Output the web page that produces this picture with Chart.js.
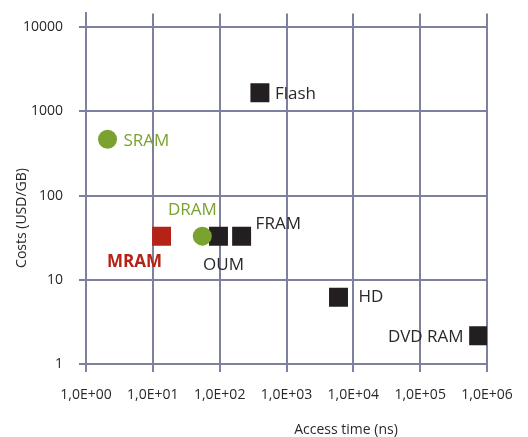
<!DOCTYPE html>
<html>
<head>
<meta charset="utf-8">
<script src="https://cdn.jsdelivr.net/npm/chart.js@4/dist/chart.umd.min.js"></script>
<style>
  body { margin: 0; background: #fff; }
  #wrap { width: 528px; height: 437px; }
</style>
</head>
<body>
<div id="wrap"><canvas id="memory-chart"></canvas></div>
<script>
// Memory technologies: access time (ns) vs cost (USD/GB)
const greenNames = ['SRAM', 'DRAM'];
const greenAccess = [2.1, 55];
const greenCost = [468, 33];

const redNames = ['MRAM'];
const redAccess = [13.5];
const redCost = [33];

const blackNames = ['OUM', 'FRAM', 'Flash', 'HD', 'DVD RAM'];
const blackAccess = [96, 213, 400, 6000, 750000];
const blackCost = [33, 33, 1670, 6.2, 2.16];

const xTicks = [1, 10, 100, 1000, 10000, 100000, 1000000];
const xTickLabels = ['1,0E+00', '1,0E+01', '1,0E+02', '1,0E+03', '1,0E+04', '1,0E+05', '1,0E+06'];
const yTicks = [1, 10, 100, 1000, 10000];
const yTickLabels = ['1', '10', '100', '1000', '10000'];

const gridColor = '#7d809e';
const textColor = '#2b2829';
const FONT = '"Open Sans", sans-serif';

// where each name sits relative to its marker
const labelPlace = {
  'SRAM':    { dx: 16,  dy: 2,   align: 'left' },
  'DRAM':    { dx: -10, dy: -26, align: 'center' },
  'MRAM':    { dx: -27, dy: 26,  align: 'center', bold: true },
  'OUM':     { dx: 5,   dy: 29,  align: 'center' },
  'FRAM':    { dx: 14,  dy: -12, align: 'left' },
  'Flash':   { dx: 15,  dy: 1,   align: 'left' },
  'HD':      { dx: 20,  dy: 0,   align: 'left' },
  'DVD RAM': { dx: -15, dy: 1,   align: 'right' }
};

function toPoints(xs, ys) {
  return xs.map((x, i) => ({ x: x, y: ys[i] }));
}

const pointLabels = {
  id: 'pointLabels',
  afterDatasetsDraw(chart) {
    const ctx = chart.ctx;
    ctx.save();
    ctx.textBaseline = 'middle';
    chart.data.datasets.forEach((ds, di) => {
      const meta = chart.getDatasetMeta(di);
      meta.data.forEach((pt, i) => {
        const name = ds.names[i];
        const p = labelPlace[name];
        ctx.font = (p.bold ? 'bold ' : '') + '17px ' + FONT;
        ctx.fillStyle = ds.labelColor;
        ctx.textAlign = p.align;
        ctx.fillText(name, pt.x + p.dx, pt.y + p.dy);
      });
    });
    ctx.restore();
  }
};

const axisTitles = {
  id: 'axisTitles',
  afterDraw(chart) {
    const ctx = chart.ctx;
    ctx.save();
    ctx.fillStyle = textColor;
    ctx.font = '14px ' + FONT;
    ctx.textAlign = 'center';
    ctx.textBaseline = 'middle';
    ctx.fillText('Access time (ns)', 346, 430);
    ctx.translate(22, 218);
    ctx.rotate(-Math.PI / 2);
    ctx.fillText('Costs (USD/GB)', 0, 0);
    ctx.restore();
  }
};

const ctx = document.getElementById('memory-chart').getContext('2d');
new Chart(ctx, {
  type: 'scatter',
  data: {
    datasets: [
      {
        names: greenNames,
        labelColor: '#7aa22e',
        data: toPoints(greenAccess, greenCost),
        pointStyle: 'circle',
        radius: 9.5,
        hoverRadius: 9.5,
        backgroundColor: '#7aa22e',
        borderWidth: 0
      },
      {
        names: redNames,
        labelColor: '#b52217',
        data: toPoints(redAccess, redCost),
        pointStyle: 'rect',
        radius: 13.4,
        hoverRadius: 13.4,
        backgroundColor: '#b52217',
        borderWidth: 0
      },
      {
        names: blackNames,
        labelColor: textColor,
        data: toPoints(blackAccess, blackCost),
        pointStyle: 'rect',
        radius: 13.4,
        hoverRadius: 13.4,
        backgroundColor: '#231f20',
        borderWidth: 0
      }
    ]
  },
  options: {
    responsive: true,
    maintainAspectRatio: false,
    animation: false,
    layout: { padding: { top: 10, right: 41, left: 0, bottom: 0 } },
    plugins: {
      legend: { display: false },
      tooltip: { enabled: false }
    },
    scales: {
      x: {
        type: 'logarithmic',
        min: 1,
        max: 1000000,
        bounds: 'data',
        afterBuildTicks: (s) => { s.ticks = xTicks.map(v => ({ value: v })); },
        afterFit: (s) => { s.height = 73; s.paddingLeft = 0; s.paddingRight = 0; },
        grid: { color: gridColor, lineWidth: 2, tickLength: 8 },
        border: { color: gridColor, width: 2 },
        ticks: {
          autoSkip: false,
          maxRotation: 0,
          padding: 15,
          color: textColor,
          font: { family: FONT, size: 14 },
          callback: (v, i) => xTickLabels[i]
        }
      },
      y: {
        type: 'logarithmic',
        min: 1,
        max: 14600,
        bounds: 'data',
        afterBuildTicks: (s) => { s.ticks = yTicks.map(v => ({ value: v })); },
        afterFit: (s) => { s.width = 86; s.paddingTop = 0; s.paddingBottom = 0; },
        grid: { color: gridColor, lineWidth: 2, tickLength: 7 },
        border: { color: gridColor, width: 2 },
        ticks: {
          autoSkip: false,
          padding: 16,
          color: textColor,
          font: { family: FONT, size: 14 },
          callback: (v, i) => yTickLabels[i]
        }
      }
    }
  },
  plugins: [pointLabels, axisTitles]
});
</script>
</body>
</html>
